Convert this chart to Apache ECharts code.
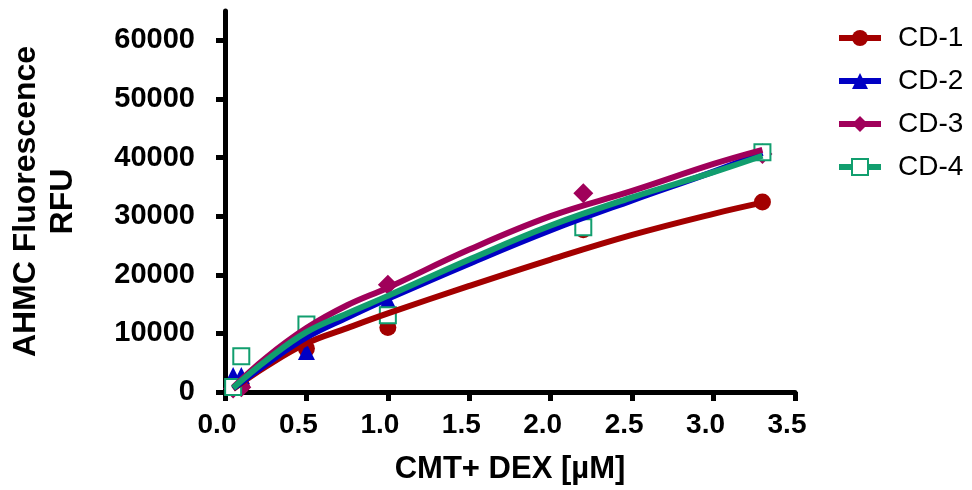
<!DOCTYPE html>
<html>
<head>
<meta charset="utf-8">
<title>AHMC Fluorescence</title>
<script src="https://cdn.jsdelivr.net/npm/echarts@6/dist/echarts.min.js"></script>
<style>
	html, body {
		margin: 0;
		padding: 0;
		background: #fff;
	}
	#chart {
		width: 972px;
		height: 490px;
	}
</style>
</head>
<body>
<div id="chart"></div>
<script>
	/*series names*/
	var names = ['CD-1', 'CD-2', 'CD-3', 'CD-4'];
	var colors = ['#a30000', '#0000c4', '#a0005a', '#119e6e'];
	var symbols = ['circle', 'triangle', 'diamond', 'emptyRect'];
	var symbolSizes = [17, 17, 20, 16];

	/*measured points, x in uM*/
	var pointX = [0.05, 0.1, 0.5, 1.0, 2.2, 3.3];
	var cd1Points = [700, 1100, 7400, 11000, 27700, 32400];
	var cd2Points = [2800, 2800, 6900, 15600, 28200, 41000];
	var cd3Points = [600, 800, 10200, 18300, 33900, 40600];
	var cd4Points = [850, 6100, 11500, 13100, 28100, 40900];

	/*fitted curves*/
	var curveX = [0.05, 0.25, 0.5, 0.75, 1.0, 1.5, 2.0, 2.5, 3.0, 3.3];
	var cd1Curve = [500, 4300, 8300, 10900, 13400, 18100, 22600, 26800, 30400, 32300];
	var cd2Curve = [600, 4700, 9300, 12700, 15900, 21900, 27600, 32700, 37600, 40800];
	var cd3Curve = [800, 5800, 10900, 14800, 17800, 24300, 30000, 34300, 38900, 41300];
	var cd4Curve = [700, 5300, 10200, 13400, 16400, 22600, 28400, 33200, 37500, 40300];

	/*axis ticks*/
	var xTicks = [0, 0.5, 1.0, 1.5, 2.0, 2.5, 3.0, 3.5];
	var yTicks = [0, 10000, 20000, 30000, 40000, 50000, 60000];

	var allPoints = [cd1Points, cd2Points, cd3Points, cd4Points];
	var allCurves = [cd1Curve, cd2Curve, cd3Curve, cd4Curve];

	function pairs(xs, ys) {
		return xs.map(function(x, i) {
			return [x, ys[i]];
		});
	}

	var font = '"Liberation Sans", Arial, Helvetica, sans-serif';
	var series = [];
	names.forEach(function(name, i) {
		// 拟合曲线
		series.push({
			name: name,
			type: 'line',
			smooth: 0.4,
			showSymbol: false,
			symbol: symbols[i],
			symbolSize: symbolSizes[i],
			data: pairs(curveX, allCurves[i]),
			color: colors[i],
			lineStyle: {
				width: 6,
				color: colors[i]
			},
			itemStyle: {
				color: colors[i]
			},
			silent: true
		});
		// 数据点
		series.push({
			name: name,
			type: 'scatter',
			symbol: symbols[i],
			symbolSize: symbolSizes[i],
			data: pairs(pointX, allPoints[i]),
			itemStyle: {
				color: colors[i],
				opacity: 1,
				borderWidth: i === 3 ? 4 : 0
			}
		});
	});

	var option = {
		animation: false,
		backgroundColor: '#fff',
		grid: {
			left: 220,
			right: 177,
			top: 11,
			bottom: 98
		},
		legend: {
			orient: 'vertical',
			left: 831,
			top: 19,
			itemWidth: 42,
			itemHeight: 20,
			itemGap: 15,
			data: names,
			lineStyle: {
				width: 6
			},
			textStyle: {
				color: '#000',
				fontFamily: font,
				fontSize: 28,
				padding: [0, 0, 0, 12]
			}
		},
		xAxis: {
			type: 'value',
			min: 0,
			max: 3.5,
			interval: 0.5,
			name: 'CMT+ DEX [µM]',
			nameLocation: 'middle',
			nameGap: 62,
			nameTextStyle: {
				color: '#000',
				fontFamily: font,
				fontWeight: 'bold',
				fontSize: 31
			},
			axisLine: {
				lineStyle: {
					color: '#000',
					width: 5
				}
			},
			axisTick: {
				length: 9,
				lineStyle: {
					color: '#000',
					width: 5
				}
			},
			axisLabel: {
				color: '#000',
				margin: 19,
				padding: [0, 16, 0, 0],
				fontFamily: font,
				fontWeight: 'bold',
				fontSize: 28,
				customValues: xTicks,
				formatter: function(v) {
					return v.toFixed(1);
				}
			},
			splitLine: {
				show: false
			}
		},
		yAxis: {
			type: 'value',
			min: 0,
			max: 65000,
			interval: 10000,
			name: 'AHMC Fluorescence\nRFU',
			nameLocation: 'middle',
			nameGap: 143,
			nameTextStyle: {
				color: '#000',
				fontFamily: font,
				fontWeight: 'bold',
				fontSize: 32,
				lineHeight: 37
			},
			axisLine: {
				lineStyle: {
					color: '#000',
					width: 5
				}
			},
			axisTick: {
				length: 9,
				customValues: yTicks,
				lineStyle: {
					color: '#000',
					width: 5
				}
			},
			axisLabel: {
				color: '#000',
				margin: 30,
				padding: [10, 0, 0, 0],
				fontFamily: font,
				fontWeight: 'bold',
				fontSize: 29,
				customValues: yTicks,
				formatter: function(v) {
					return String(v);
				}
			},
			splitLine: {
				show: false
			}
		},
		series: series
	};

	var myChart = echarts.init(document.getElementById('chart'));
	myChart.setOption(option);
</script>
</body>
</html>
